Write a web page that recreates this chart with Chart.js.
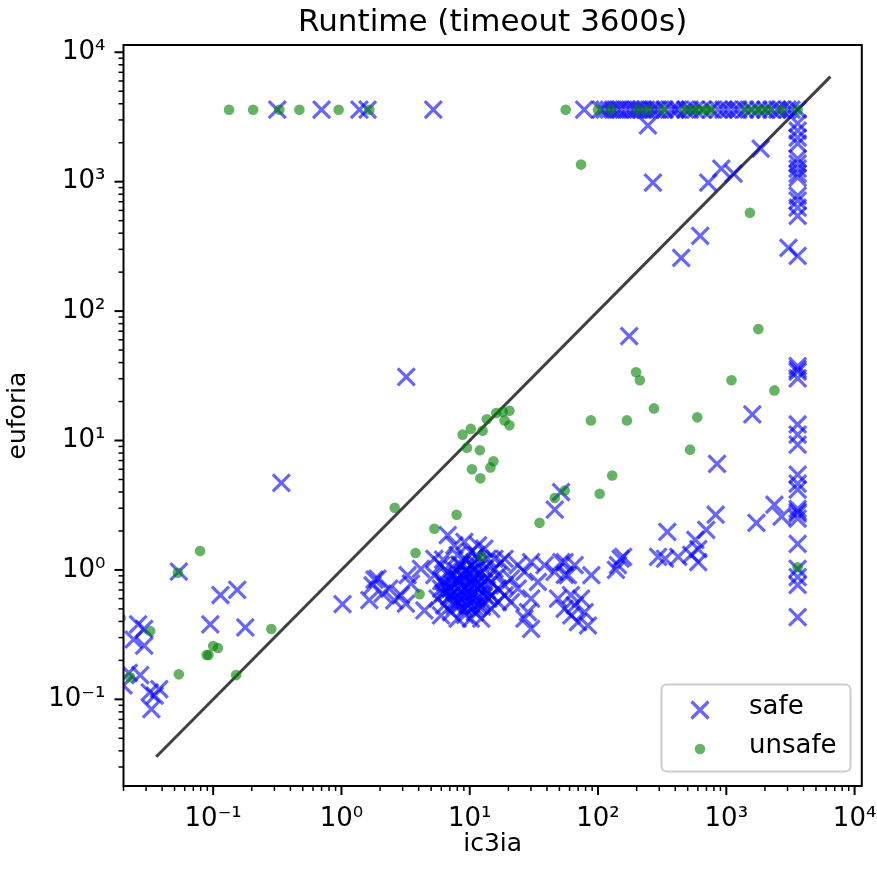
<!DOCTYPE html>
<html>
<head>
<meta charset="utf-8">
<script src="https://cdn.jsdelivr.net/npm/chart.js@4.4.0/dist/chart.umd.min.js"></script>
<style>
  body { margin: 0; background: #fff; }
</style>
</head>
<body>
<canvas id="chart" width="877" height="871"></canvas>
<script>
const TIMEOUT = 3600;
const axisRange = [0.02, 11380];
const yAxisRange = [0.0214, 11380];
const diagonalRange = [0.036, 6480];

// safe: euforia timed out (ic3ia runtimes)
const safeEuforiaTimeout = [0.316, 0.70, 1.38, 1.6, 5.2, 78, 105, 113, 122, 131, 142, 151, 165, 178, 192,
  205, 220, 237, 259, 275, 294, 330, 372, 400, 422, 479, 520, 573, 650, 764, 866, 950, 1037, 1150,
  1241, 1400, 1567, 1778, 2017, 2248, 2500, 2690, 3000, 3220, 3600];
// safe: ic3ia timed out (euforia runtimes)
const safeIc3iaTimeout = [2818, 2484, 2193, 1971, 1507, 1380, 1263, 1153, 1075, 779, 713, 629, 545, 267,
  37.5, 35.5, 34, 30.2, 13.3, 11.1, 9.3, 5.45, 4.64, 4.17, 2.97, 2.82, 2.72, 2.49, 1.59, 1.02, 0.88, 0.765, 0.432];
// safe: both finished [ic3ia, euforia]
const safeSolved = [
  [0.054, 0.97], [0.114, 0.64], [0.154, 0.70], [0.095, 0.38], [0.178, 0.36], [0.026, 0.38], [0.024, 0.29],
  [0.029, 0.26], [0.029, 0.35], [0.022, 0.16], [0.027, 0.154], [0.020, 0.128], [0.032, 0.113], [0.038, 0.12],
  [0.035, 0.107], [0.033, 0.084], [0.34, 4.7], [3.2, 31],
  [1.02, 0.545], [1.65, 0.585], [1.81, 0.84], [1.75, 0.76], [1.91, 0.857], [2.09, 0.655], [2.36, 0.716],
  [2.58, 0.582], [2.91, 0.637], [3.28, 0.91], [3.48, 0.784], [3.18, 0.548], [4.43, 0.486], [4.17, 1.02],
  [5.3, 1.22], [5.97, 1.09], [6.73, 1.86], [7.59, 1.55], [8.05, 1.30], [9.08, 1.65], [10.2, 1.38], [11.6, 1.55],
  [13.0, 1.46], [15.6, 1.22], [18.7, 1.22], [6.34, 0.807], [7.14, 0.716], [8.05, 0.857], [9.08, 0.965],
  [10.2, 0.807], [11.6, 0.91], [13.0, 1.02], [14.7, 0.807], [16.6, 0.91], [18.7, 0.76], [21.0, 0.857],
  [23.7, 0.716], [5.62, 0.60], [6.34, 0.532], [7.14, 0.472], [8.05, 0.565], [9.08, 0.501], [10.2, 0.60],
  [11.6, 0.532], [13.0, 0.637], [14.7, 0.501], [16.6, 0.565], [18.7, 0.637], [21.0, 0.565], [5.97, 0.716],
  [5.3, 0.91], [8.05, 0.42], [10.2, 0.42], [12.3, 0.42], [5.97, 0.446], [7.14, 0.637], [9.08, 0.716],
  [11.6, 0.716], [14.7, 0.637], [16.6, 0.716], [6.73, 0.965], [8.55, 1.09], [10.9, 1.15], [13.8, 1.22],
  [6.73, 0.685], [8.55, 0.685], [10.9, 0.685], [7.59, 0.532], [9.6, 0.532], [12.3, 0.565], [8.55, 0.76],
  [10.9, 0.76], [7.59, 0.91], [9.6, 1.02], [12.3, 1.15], [13.8, 0.857], [15.6, 1.02], [17.6, 1.15],
  [6.9, 0.62], [7.8, 0.68], [8.3, 0.6], [9.3, 0.63], [10.5, 0.66], [11.2, 0.6], [7.3, 0.78], [8.2, 0.82],
  [9.0, 0.86], [9.8, 0.74], [10.6, 0.88], [11.4, 0.8], [12.1, 0.74], [6.5, 0.74], [7.0, 0.88], [7.9, 0.98],
  [8.8, 0.92], [9.9, 0.95], [11.0, 1.0], [12.0, 0.92], [8.6, 0.55], [9.7, 0.58], [10.8, 0.52], [7.6, 0.58],
  [6.2, 0.66], [12.8, 0.8], [13.6, 0.7], [14.0, 0.6], [6.0, 0.82], [8.3, 1.1], [9.3, 1.2], [10.4, 1.1],
  [11.3, 1.3], [6.2, 1.2], [12.5, 0.52], [9.2, 0.45], [11.0, 0.47],
  [23.7, 1.09], [26.7, 0.965], [30.1, 1.15], [34.0, 0.807], [30.1, 0.60], [28.4, 0.472], [26.7, 0.42],
  [30.1, 0.351], [38.3, 1.09], [45.8, 0.965], [51.7, 1.15], [58.3, 0.91], [65.8, 1.09], [48.7, 0.60],
  [54.9, 0.501], [62, 0.446], [69.8, 0.395], [78.7, 0.472], [83.5, 0.372], [65.8, 0.532], [88.7, 0.91],
  [46, 2.92], [51.5, 4.0], [175, 64], [1596, 15.9], [847, 6.6], [2371, 3.19], [1716, 2.31], [2700, 2.58],
  [347, 1.97], [826, 2.67], [698, 2.04], [573, 1.71], [604, 1.45], [604, 1.15], [533, 1.31], [422, 1.26],
  [294, 1.26], [333, 1.22], [157, 1.26], [150, 1.22], [143, 1.09], [138, 1.0], [55, 1.15], [55, 0.915],
  [61.5, 0.64], [73.7, 0.6],
  [268, 982], [914, 1263], [1140, 1153], [723, 982], [626, 381], [445, 258], [1853, 1803], [3050, 308], [245, 2717]
];

// unsafe: euforia timed out (ic3ia runtimes)
const unsafeEuforiaTimeout = [0.133, 0.205, 0.328, 0.47, 0.95, 1.65, 56, 100, 126, 205, 245, 322, 479, 552,
  604, 685, 750, 1432, 1686, 1877, 2129, 2690, 3600];
// unsafe: ic3ia timed out (euforia runtimes)
const unsafeIc3iaTimeout = [1.05];
// unsafe: both finished [ic3ia, euforia]
const unsafeSolved = [
  [0.079, 1.40], [0.053, 0.95], [0.284, 0.35], [0.10, 0.258], [0.109, 0.249], [0.089, 0.22], [0.092, 0.22],
  [0.054, 0.156], [0.151, 0.154], [0.0323, 0.337], [0.019, 0.425], [0.0225, 0.148],
  [2.6, 3.02], [7.9, 2.67], [5.3, 2.08], [3.78, 1.35], [4.06, 0.65], [12.4, 1.26], [35, 2.31], [46, 3.6], [55, 4.1],
  [8.8, 11.1], [10.2, 12.3], [12.6, 11.9], [13.6, 14.6], [16.1, 16.3], [18.1, 16.7], [20.4, 17], [18.7, 14.3],
  [20.4, 13.1], [9.5, 8.8], [12, 8.4], [10.4, 6.0], [12.1, 5.1], [14.5, 6.2], [15.3, 6.9],
  [88, 14.3], [168, 14.3], [594, 15.1], [198, 33.7], [212, 29.2], [1097, 29.2], [273, 17.7], [522, 8.5],
  [129, 5.36], [103, 3.88], [1778, 72.6], [2371, 24.4], [1527, 575], [73.7, 1355]
];

const SAFE_COLOR = 'rgba(0, 0, 255, 0.6)';
const UNSAFE_COLOR = 'rgba(0, 128, 0, 0.6)';
const FONT = '"DejaVu Sans", sans-serif';

function collect(pairs, xTimeouts, yTimeouts) {
  return pairs.map(([x, y]) => ({ x, y }))
    .concat(xTimeouts.map(x => ({ x, y: TIMEOUT })))
    .concat(yTimeouts.map(y => ({ x: TIMEOUT, y })));
}

const SUP = { '-': '\u207B', '0': '\u2070', '1': '\u00B9', '2': '\u00B2', '3': '\u00B3', '4': '\u2074' };
function isMajor(v) {
  const l = Math.log10(v);
  return Math.abs(l - Math.round(l)) < 1e-9;
}
function powLabel(v) {
  if (!isMajor(v)) return '';
  return '10' + String(Math.round(Math.log10(v))).split('').map(c => SUP[c]).join('');
}
function decadeTicks(scale) {
  const ticks = [];
  for (let e = -2; e <= 4; e++) {
    for (let k = 1; k <= 9; k++) {
      const v = k * Math.pow(10, e);
      if (v >= scale.min && v <= scale.max) ticks.push({ value: v });
    }
  }
  scale.ticks = ticks;
}

const framePlugin = {
  id: 'frameTicks',
  afterDraw(chart) {
    const { ctx, chartArea: a, scales: { x, y } } = chart;
    ctx.save();
    ctx.strokeStyle = '#000';
    x.ticks.forEach(t => {
      const px = x.getPixelForValue(t.value);
      const major = isMajor(t.value);
      ctx.lineWidth = major ? 2 : 1.5;
      ctx.beginPath();
      ctx.moveTo(px, a.bottom);
      ctx.lineTo(px, a.bottom + (major ? 9 : 5));
      ctx.stroke();
    });
    y.ticks.forEach(t => {
      const py = y.getPixelForValue(t.value);
      const major = isMajor(t.value);
      ctx.lineWidth = major ? 2 : 1.5;
      ctx.beginPath();
      ctx.moveTo(a.left, py);
      ctx.lineTo(a.left - (major ? 9 : 5), py);
      ctx.stroke();
    });
    ctx.lineWidth = 2;
    ctx.strokeRect(a.left, a.top, a.right - a.left, a.bottom - a.top);

    // title
    ctx.fillStyle = '#000';
    ctx.font = '31px ' + FONT;
    ctx.textAlign = 'center';
    ctx.textBaseline = 'alphabetic';
    ctx.fillText('Runtime (timeout 3600s)', (a.left + a.right) / 2, 31);

    // legend
    const lx = 661.5, ly = 684.5, lw = 189, lh = 87;
    ctx.beginPath();
    ctx.roundRect(lx, ly, lw, lh, 5);
    ctx.fillStyle = 'rgba(255,255,255,0.8)';
    ctx.fill();
    ctx.strokeStyle = '#cccccc';
    ctx.lineWidth = 2;
    ctx.stroke();

    ctx.strokeStyle = SAFE_COLOR;
    ctx.lineWidth = 3.2;
    ctx.beginPath();
    ctx.moveTo(700 - 8.5, 710 - 8.5); ctx.lineTo(700 + 8.5, 710 + 8.5);
    ctx.moveTo(700 - 8.5, 710 + 8.5); ctx.lineTo(700 + 8.5, 710 - 8.5);
    ctx.stroke();
    ctx.fillStyle = UNSAFE_COLOR;
    ctx.beginPath();
    ctx.arc(700, 749, 5.3, 0, Math.PI * 2);
    ctx.fill();

    ctx.fillStyle = '#000';
    ctx.font = '26px ' + FONT;
    ctx.textAlign = 'left';
    ctx.textBaseline = 'middle';
    ctx.fillText('safe', 749, 707);
    ctx.fillText('unsafe', 749, 746);
    ctx.restore();
  }
};

new Chart(document.getElementById('chart'), {
  type: 'scatter',
  data: {
    datasets: [
      {
        label: 'unsafe',
        data: collect(unsafeSolved, unsafeEuforiaTimeout, unsafeIc3iaTimeout),
        pointStyle: 'circle',
        pointRadius: 5.3,
        pointBorderWidth: 0,
        backgroundColor: UNSAFE_COLOR,
        borderColor: UNSAFE_COLOR,
        order: 1
      },
      {
        label: 'safe',
        data: collect(safeSolved, safeEuforiaTimeout, safeIc3iaTimeout),
        pointStyle: 'crossRot',
        pointRadius: 12,
        pointBorderWidth: 3.2,
        borderColor: SAFE_COLOR,
        backgroundColor: SAFE_COLOR,
        order: 2
      },
      {
        label: 'y = x',
        data: diagonalRange.map(v => ({ x: v, y: v })),
        showLine: true,
        pointRadius: 0,
        borderColor: 'rgba(0,0,0,0.75)',
        borderWidth: 3,
        order: 3
      }
    ]
  },
  options: {
    responsive: false,
    animation: false,
    layout: { padding: { left: 0, right: 13, top: 45, bottom: 0 } },
    plugins: { legend: { display: false }, tooltip: { enabled: false } },
    scales: {
      x: {
        type: 'logarithmic',
        min: axisRange[0],
        max: axisRange[1],
        bounds: 'data',
        grid: { display: false, drawTicks: true, tickLength: 9 },
        border: { display: false },
        ticks: {
          autoSkip: false,
          maxRotation: 0,
          padding: 9,
          color: '#000',
          font: { family: FONT, size: 26 },
          callback: v => powLabel(v)
        },
        title: {
          display: true,
          text: 'ic3ia',
          color: '#000',
          font: { family: FONT, size: 25, lineHeight: 1.2 },
          padding: { top: 0, bottom: 12 }
        },
        afterBuildTicks: decadeTicks,
        afterFit: s => { s.height = 85; s.paddingLeft = 0; s.paddingRight = 0; }
      },
      y: {
        type: 'logarithmic',
        min: yAxisRange[0],
        max: yAxisRange[1],
        bounds: 'data',
        grid: { display: false, drawTicks: true, tickLength: 9 },
        border: { display: false },
        ticks: {
          autoSkip: false,
          padding: 9,
          color: '#000',
          font: { family: FONT, size: 26 },
          callback: v => powLabel(v)
        },
        title: {
          display: true,
          text: 'euforia',
          color: '#000',
          font: { family: FONT, size: 25, lineHeight: 1.2 },
          padding: { top: 3, bottom: 0 }
        },
        afterBuildTicks: decadeTicks,
        afterFit: s => { s.width = 123.5; s.paddingTop = 0; s.paddingBottom = 0; }
      }
    }
  },
  plugins: [framePlugin]
});
</script>
</body>
</html>
